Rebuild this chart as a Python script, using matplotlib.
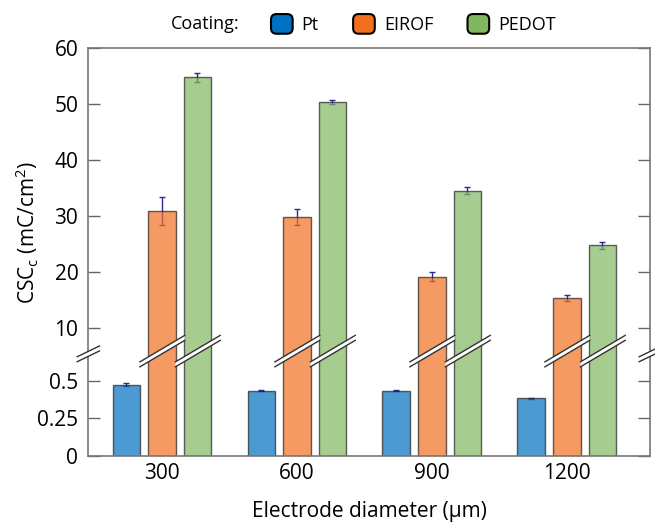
import numpy as np
from matplotlib import pyplot as plt
from matplotlib.patches import Polygon, Patch, FancyBboxPatch
from matplotlib.legend_handler import HandlerPatch
from matplotlib.transforms import blended_transform_factory

plt.rcParams['font.family'] = ['Open Sans', 'DejaVu Sans']
plt.rcParams['mathtext.fontset'] = 'custom'
plt.rcParams['mathtext.rm'] = 'Open Sans'
plt.rcParams['mathtext.it'] = 'Open Sans:italic'

diameters = ['300', '600', '900', '1200']
coatings = ['Pt', 'EIROF', 'PEDOT']
colors = ['#0070c0', '#f07020', '#80b860']

pt_csc = [0.473, 0.435, 0.433, 0.384]
pt_err = [0.010, 0.004, 0.004, 0.004]
eirof_csc = [30.9, 29.8, 19.1, 15.3]
eirof_err = [2.5, 1.4, 0.8, 0.5]
pedot_csc = [54.8, 50.35, 34.5, 24.7]
pedot_err = [0.8, 0.4, 0.6, 0.7]

ytick_vals = [0, 0.25, 0.5, 10, 20, 30, 40, 50, 60]
ytick_labels = ['0', '0.25', '0.5', '10', '20', '30', '40', '50', '60']

# broken y axis: 0-0.7 gets stretched, 6-60 gets squeezed
y_knots = [-1, 0.7, 6, 100]
s_knots = [-150.5, 105.4, 105.9, 128.3 + 90 * 5.594]


def forward(y):
    return np.interp(y, y_knots, s_knots)


def inverse(s):
    return np.interp(s, s_knots, y_knots)


def rounded_square(legend, orig_handle, xdescent, ydescent, width, height, fontsize):
    return FancyBboxPatch((-xdescent, -ydescent), width, height,
                          boxstyle='round,pad=0,rounding_size=4')


fig = plt.figure(figsize=(6.55, 5.23), dpi=100)
ax = fig.add_axes([88 / 655, 67 / 523, 562 / 655, 408 / 523])
ax.set_yscale('function', functions=(forward, inverse))

x = np.arange(len(diameters))
width = 0.207
step = 0.263
series = [(pt_csc, pt_err), (eirof_csc, eirof_err), (pedot_csc, pedot_err)]
for i, (vals, errs) in enumerate(series):
    pos = x + (i - 1) * step
    ax.bar(pos, vals, width, color=colors[i], alpha=0.7, edgecolor='#222222',
           linewidth=1, zorder=2)
    ax.errorbar(pos, vals, yerr=errs, fmt='none', ecolor='#2a2a90',
                elinewidth=1, capsize=2, capthick=1, zorder=1.5)

ax.set_xlim(-0.548, 3.615)
ax.set_ylim(0, 60)
ax.set_xticks(x, diameters)
ax.set_yticks(ytick_vals, ytick_labels)
ax.tick_params(axis='y', direction='in', length=8.5, width=1, color='#666666',
               right=True, labelsize=15, pad=7)
ax.tick_params(axis='x', length=0, labelsize=15, pad=5)
for sp in ax.spines.values():
    sp.set_color('#777777')
    sp.set_linewidth(1.2)

# break marks across the tall bars and both spines
trans = blended_transform_factory(ax.transData, ax.transAxes)


def break_mark(c, left, right, yc, k=0.1955, h=0.0061):
    x0, x1 = c - left, c + right
    y0, y1 = yc + k * (x0 - c), yc + k * (x1 - c)
    band = Polygon([(x0, y0 - h), (x1, y1 - h), (x1, y1 + h), (x0, y0 + h)],
                   closed=True, facecolor='white', edgecolor='none',
                   transform=trans, zorder=4, clip_on=False)
    ax.add_patch(band)
    for d in (-h, h):
        ax.plot([x0, x1], [y0 + d, y1 + d], color='#333333', lw=1,
                transform=trans, zorder=4.1, clip_on=False)


for i in (1, 2):
    for c in x + (i - 1) * step:
        break_mark(c, width / 2 + 0.06, width / 2 + 0.065, 0.2566)
for c in ax.get_xlim():
    break_mark(c, 0.08, 0.085, 0.25, k=0.16)

ax.set_xlabel('Electrode diameter (\u03bcm)', fontsize=15, labelpad=12)
fig.text(27 / 655, 1 - 232 / 523, 'CSC$_\\mathregular{c}$ (mC/cm$^\\mathregular{2}$)',
         rotation=90, ha='center', va='center', fontsize=15)

handles = [Patch(facecolor=c, edgecolor='black', linewidth=1.5) for c in colors]
fig.text(240 / 655, 1 - 24 / 523, 'Coating:', ha='right', va='center', fontsize=13)
fig.legend(handles, coatings, loc='center left', bbox_to_anchor=(271 / 655, 1 - 24 / 523),
           ncol=3, frameon=False, fontsize=13, handlelength=1.2, handleheight=1.3,
           handletextpad=0.5, columnspacing=1.9, borderpad=0, borderaxespad=0,
           handler_map={Patch: HandlerPatch(patch_func=rounded_square)})

fig.savefig('out.png', dpi=100)
